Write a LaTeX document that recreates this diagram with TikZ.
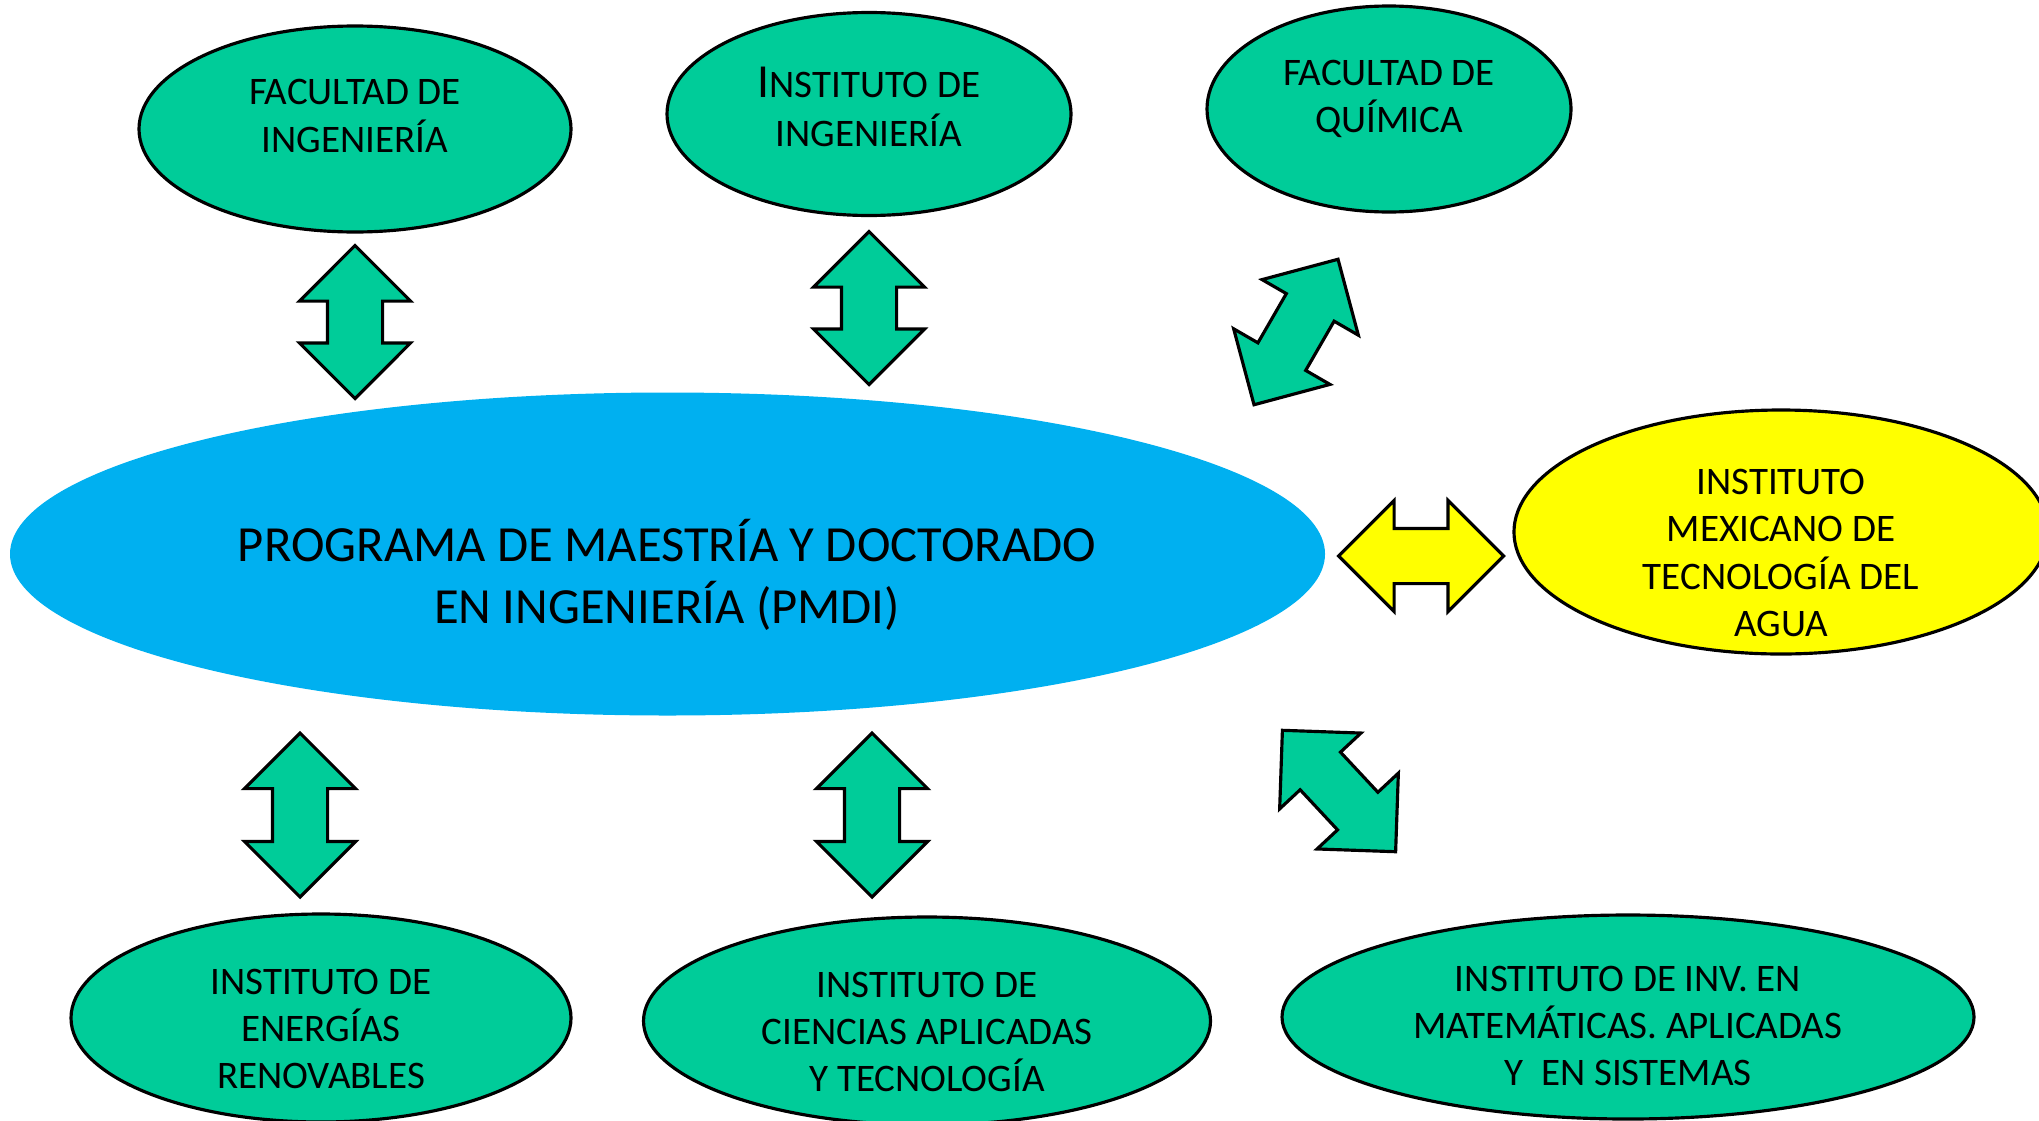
\documentclass[tikz,border=0pt]{standalone}
\usepackage{fontspec}
\setmainfont{Carlito}
\usetikzlibrary{shapes.geometric,shapes.arrows}
\definecolor{verde}{HTML}{00CC99}
\definecolor{azul}{HTML}{00B0F0}
\definecolor{amarillo}{HTML}{FFFF00}

\begin{document}
\begin{tikzpicture}[x=1cm,y=-1cm]
    \tikzstyle{org}=[ellipse,draw,fill=verde,line width=0.9pt,inner sep=0pt]
    \tikzstyle{txt}=[align=center,inner sep=0pt,font=\fontsize{11.1}{13.5}\selectfont]
    \tikzstyle{flecha}=[double arrow,draw,fill=verde,line width=0.9pt,inner xsep=0pt,inner ysep=0.26cm,double arrow head extend=0.28cm]
    \useasboundingbox (0,0) rectangle (20.39,11.2);
    \node[org,minimum width=4.32cm,minimum height=2.06cm] (facIng) at (3.55,1.29) {};
    \node[org,minimum width=4.04cm,minimum height=2.03cm] (instIng) at (8.69,1.14) {};
    \node[org,minimum width=3.64cm,minimum height=2.06cm] (facQui) at (13.89,1.09) {};
    \node[ellipse,fill=azul,minimum width=13.15cm,minimum height=3.23cm] (pmdi) at (6.675,5.54) {};
    \node[org,fill=amarillo,minimum width=5.34cm,minimum height=2.44cm] (imta) at (17.81,5.32) {};
    \node[org,minimum width=5.0cm,minimum height=2.08cm] (ier) at (3.21,10.18) {};
    \node[org,minimum width=5.67cm,minimum height=2.08cm] (icat) at (9.27,10.21) {};
    \node[org,minimum width=6.92cm,minimum height=2.04cm] (iimas) at (16.28,10.17) {};

    \node[txt] (facIngT) at (3.55,1.16) {FACULTAD DE\\INGENIERÍA};
    \node[txt,font=\fontsize{11.1}{14}\selectfont] (instIngT) at (8.69,1.07) {{\fontsize{13.5}{13.5}\selectfont I}NSTITUTO DE\\INGENIERÍA};
    \node[txt] (facQuiT) at (13.89,0.99) {FACULTAD DE\\QUÍMICA};
    \node[txt,font=\fontsize{14.4}{17.6}\selectfont] (pmdiT) at (6.67,5.75) {PROGRAMA DE MAESTRÍA Y DOCTORADO\\EN INGENIERÍA (PMDI)};
    \node[txt] (imtaT) at (17.81,5.53) {INSTITUTO\\MEXICANO DE\\TECNOLOGÍA DEL\\AGUA};
    \node[txt] (ierT) at (3.21,10.29) {INSTITUTO DE\\ENERGÍAS\\RENOVABLES};
    \node[txt] (icatT) at (9.27,10.32) {INSTITUTO DE\\CIENCIAS APLICADAS\\Y TECNOLOGÍA};
    \node[txt] (iimasT) at (16.28,10.26) {INSTITUTO DE INV. EN\\MATEMÁTICAS. APLICADAS\\Y\ \ EN SISTEMAS};

    \node[flecha,minimum height=1.53cm,rotate=90] (f1) at (3.55,3.22) {};
    \node[flecha,minimum height=1.53cm,rotate=90] (f2) at (8.69,3.08) {};
    \node[flecha,minimum height=1.68cm,rotate=60] (f3) at (12.96,3.32) {};
    \node[flecha,fill=amarillo,minimum height=1.65cm] (f4) at (14.21,5.56) {};
    \node[flecha,minimum height=1.64cm,rotate=90] (f5) at (3.00,8.15) {};
    \node[flecha,minimum height=1.64cm,rotate=90] (f6) at (8.72,8.15) {};
    \node[flecha,minimum height=1.66cm,rotate=-47] (f7) at (13.39,7.91) {};
\end{tikzpicture}
\end{document}
